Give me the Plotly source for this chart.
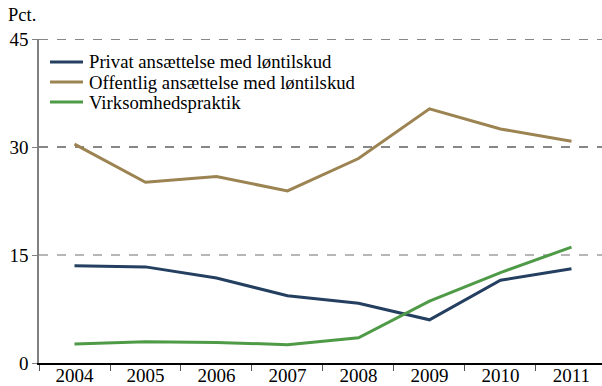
import plotly.graph_objects as go

years = ["2004", "2005", "2006", "2007", "2008", "2009", "2010", "2011"]
privat = [13.5, 13.35, 11.8, 9.35, 8.3, 6.0, 11.5, 13.1]
offentlig = [30.4, 25.1, 25.9, 23.9, 28.4, 35.3, 32.5, 30.8]
virksomhed = [2.65, 2.95, 2.85, 2.55, 3.5, 8.6, 12.55, 16.1]

series_names = [
    "Privat ansættelse med løntilskud",
    "Offentlig ansættelse med løntilskud",
    "Virksomhedspraktik",
]
series_colors = ["#243f60", "#9c8352", "#4f9a47"]
y_ticks = [0, 15, 30, 45]
grid_colors = {15: "#707070", 30: "#111111", 45: "#111111"}

FONT = "Liberation Serif"

W, H = 602, 386
M_L, M_R, M_T, M_B = 39, 0, 39, 23
PLOT_W = W - M_L - M_R
PLOT_H = H - M_T - M_B


def px_to_paper(px, py):
    return (px - M_L) / PLOT_W, (H - M_B - py) / PLOT_H


fig = go.Figure()
for name, values, color in zip(series_names, [privat, offentlig, virksomhed], series_colors):
    fig.add_trace(go.Scatter(
        x=years, y=values, name=name, mode="lines",
        line=dict(color=color, width=3), showlegend=False,
    ))

shapes = []
# dashed horizontal reference lines at each non-zero tick
for v in y_ticks[1:]:
    shapes.append(dict(
        type="line", xref="paper", x0=0, x1=1, yref="y", y0=v, y1=v,
        line=dict(color=grid_colors[v], width=1.2, dash="dash"), layer="below",
    ))

annotations = [dict(
    text="Pct.", xref="paper", yref="paper", x=0, y=1,
    xanchor="left", yanchor="bottom", xshift=-33, yshift=12,
    showarrow=False, font=dict(family=FONT, size=18.5, color="black"),
)]

# compact legend: short line sample followed by the series name
for i, (name, color) in enumerate(zip(series_names, series_colors)):
    row_y = 62 + 20 * i
    x0, yy = px_to_paper(50, row_y)
    x1, _ = px_to_paper(83, row_y)
    xt, _ = px_to_paper(87, row_y)
    shapes.append(dict(
        type="line", xref="paper", yref="paper", x0=x0, x1=x1, y0=yy, y1=yy,
        line=dict(color=color, width=3),
    ))
    annotations.append(dict(
        text=name, xref="paper", yref="paper", x=xt, y=yy,
        xanchor="left", yanchor="middle", showarrow=False,
        font=dict(family=FONT, size=18.7, color="black"),
    ))

fig.update_layout(
    width=W, height=H,
    margin=dict(l=M_L, r=M_R, t=M_T, b=M_B, autoexpand=False),
    paper_bgcolor="white", plot_bgcolor="white",
    font=dict(family=FONT, size=19, color="black"),
    showlegend=False,
    shapes=shapes,
    annotations=annotations,
)

fig.update_xaxes(
    type="category", range=[-0.5, 7.43], automargin=False,
    showgrid=False, showline=True, linecolor="black", linewidth=1.5,
    ticks="outside", tickson="boundaries", ticklen=6, tickcolor="#555555",
    tickwidth=1.2, ticklabelstandoff=-6,
    tickfont=dict(family=FONT, size=19, color="black"),
)
fig.update_yaxes(
    range=[0, 45], tickvals=y_ticks, ticktext=[str(v) for v in y_ticks],
    automargin=False,
    showgrid=False, zeroline=False,
    showline=True, linecolor="#808080", linewidth=1.5,
    ticks="outside", ticklen=5, tickcolor="#808080", tickwidth=1.2,
    tickfont=dict(family=FONT, size=19, color="black"),
)

fig.write_html("out.html")
